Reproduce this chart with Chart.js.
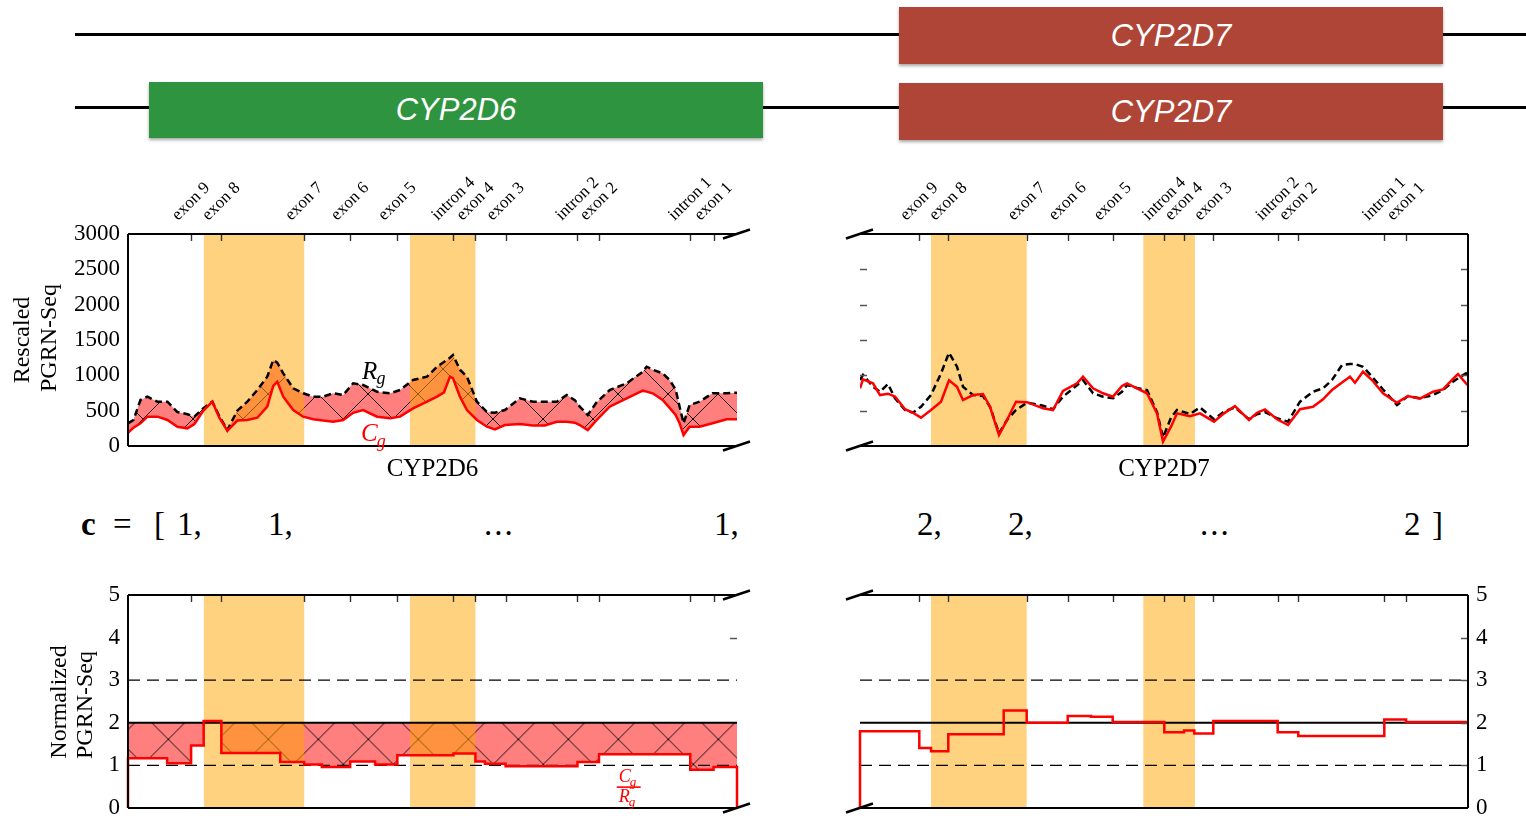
<!DOCTYPE html>
<html>
<head>
<meta charset="utf-8">
<title>CYP2D6 / CYP2D7 PGRN-Seq coverage</title>
<script src="https://cdn.jsdelivr.net/npm/chart.js@4/dist/chart.umd.min.js"></script>
<style>
  html, body { margin: 0; padding: 0; background: #fff; }
  body { width: 1526px; height: 819px; position: relative; overflow: hidden; }
  canvas { position: absolute; }
  .track { position: absolute; left: 75px; width: 1451px; height: 3px; background: #000; }
  .gene { position: absolute; display: flex; align-items: center; justify-content: center;
          color: #fff; font: italic 31px "Liberation Sans", Arial, sans-serif;
          box-shadow: 0 2px 3px rgba(0,0,0,0.35); }
  .vec { position: absolute; top: 508px; font: 33px "Liberation Serif", serif; line-height: 33px;
         white-space: pre; color: #000; }
</style>
</head>
<body>
<div class="track" style="top:33px"></div>
<div class="track" style="top:106px"></div>
<div class="gene" style="left:149px;top:82px;width:614px;height:56px;background:#2f9440">CYP2D6</div>
<div class="gene" style="left:899px;top:7px;width:544px;height:57px;background:#af4536">CYP2D7</div>
<div class="gene" style="left:899px;top:83px;width:544px;height:57px;background:#af4536">CYP2D7</div>

<canvas id="tl" width="770" height="325" style="left:0;top:160px"></canvas>
<canvas id="tr" width="696" height="325" style="left:830px;top:160px"></canvas>
<canvas id="bl" width="770" height="270" style="left:0;top:570px"></canvas>
<canvas id="br" width="696" height="270" style="left:830px;top:570px"></canvas>

<div class="vec" style="left:81px;font-weight:bold">c</div>
<div class="vec" style="left:113px">=</div>
<div class="vec" style="left:154px">[</div>
<div class="vec" style="left:177px">1,</div>
<div class="vec" style="left:268px">1,</div>
<div class="vec" style="left:484px;letter-spacing:2px">...</div>
<div class="vec" style="left:714px">1,</div>
<div class="vec" style="left:917px">2,</div>
<div class="vec" style="left:1008px">2,</div>
<div class="vec" style="left:1200px;letter-spacing:2px">...</div>
<div class="vec" style="left:1404px">2</div>
<div class="vec" style="left:1432px">]</div>

<script>
// ---- exon / intron landmarks (bp from the start of each gene window) ----
const EXON_LABELS = ['exon 9', 'exon 8', 'exon 7', 'exon 6', 'exon 5', 'intron 4',
                     'exon 4', 'exon 3', 'intron 2', 'exon 2', 'intron 1', 'exon 1'];
const EXON_POS_2D6 = [632, 935, 1765, 2225, 2698, 3260, 3480, 3782, 4502, 4718, 5632, 5865];
const EXON_POS_2D7 = [593, 883, 1667, 2077, 2527, 3043, 3240, 3533, 4177, 4383, 5243, 5460];

// highlighted regions
const BANDS_2D6 = [[760, 1765], [2825, 3480]];
const BANDS_2D7 = [[710, 1667], [2833, 3350]];

// ---- rescaled coverage, CYP2D6 window ----
const POS_2D6 = [0, 55, 125, 195, 295, 395, 495, 595, 665, 755,
                 845, 915, 995, 1095, 1195, 1295, 1395, 1455, 1495, 1555,
                 1655, 1755, 1855, 1955, 2055, 2155, 2255, 2355, 2495, 2625,
                 2725, 2855, 2995, 3095, 3165, 3225, 3255, 3325, 3395, 3495,
                 3595, 3675, 3775, 3925, 4055, 4175, 4295, 4395, 4475, 4525,
                 4605, 4695, 4825, 4995, 5155, 5195, 5255, 5355, 5425, 5485,
                 5525, 5565, 5625, 5725, 5855, 5995, 6100];
const RG_2D6 = [321, 368, 651, 698, 627, 627, 480, 450, 415, 533,
                627, 420, 226, 500, 627, 792, 981, 1217, 1180, 1028,
                816, 746, 698, 698, 746, 721, 887, 863, 768, 746,
                792, 934, 981, 1122, 1190, 1250, 1288, 1080, 981, 627,
                480, 470, 509, 675, 627, 627, 627, 721, 650, 556,
                439, 620, 792, 887, 1050, 1122, 1080, 1028, 934, 800,
                556, 321, 580, 627, 746, 746, 754];
const CG_2D6 = [188, 260, 321, 415, 415, 368, 273, 250, 311, 500,
                627, 400, 217, 360, 368, 400, 556, 850, 910, 698,
                509, 415, 380, 360, 344, 368, 470, 509, 415, 392,
                415, 533, 627, 698, 760, 981, 960, 698, 509, 368,
                273, 236, 297, 311, 290, 290, 344, 344, 330, 297,
                226, 368, 556, 675, 783, 770, 746, 651, 540, 440,
                321, 156, 273, 273, 321, 378, 378];

// ---- rescaled coverage, CYP2D7 window ----
const POS_2D7 = [0, 30, 130, 200, 280, 350, 450, 530, 610, 710,
                 810, 890, 970, 1030, 1130, 1230, 1300, 1390, 1470, 1560,
                 1670, 1830, 1930, 2030, 2170, 2230, 2330, 2430, 2530, 2620,
                 2670, 2770, 2870, 2970, 3030, 3110, 3170, 3300, 3400, 3540,
                 3640, 3750, 3890, 3970, 4050, 4170, 4280, 4400, 4530, 4630,
                 4720, 4820, 4900, 4950, 5030, 5120, 5230, 5370, 5480, 5600,
                 5730, 5830, 5930, 5980, 6060, 6080];
const RG_2D7 = [934, 1005, 839, 768, 877, 675, 509, 471, 556, 721,
                1028, 1320, 1122, 839, 721, 707, 556, 180, 368, 509,
                613, 570, 520, 698, 860, 934, 746, 698, 675, 768,
                863, 820, 792, 480, 120, 400, 509, 453, 547, 378,
                485, 547, 378, 450, 480, 392, 344, 627, 768, 816,
                934, 1146, 1160, 1160, 1122, 981, 800, 580, 707, 675,
                721, 792, 910, 960, 1028, 1000];
const CG_2D7 = [816, 943, 887, 721, 740, 700, 520, 470, 401, 509,
                627, 930, 839, 651, 721, 736, 556, 156, 368, 627,
                620, 533, 509, 780, 887, 981, 816, 746, 698, 850,
                887, 816, 746, 462, 61, 273, 462, 420, 462, 344,
                462, 566, 368, 471, 519, 378, 297, 520, 556, 660,
                792, 900, 981, 896, 1051, 934, 746, 613, 707, 670,
                768, 800, 950, 1019, 887, 860];

// ---- normalized coverage Cg/Rg per region (step starts) ----
const STEP_POS_2D6 = [0, 0, 392, 632, 758, 935, 1525, 1765, 1942, 2225, 2475,
                      2698, 3260, 3480, 3575, 3782, 4502, 4718, 5632, 5865, 6100, 6100];
const STEP_VAL_2D6 = [0, 1.17, 1.05, 1.47, 2.04, 1.29, 1.08, 1.02, 0.96, 1.09, 1.02,
                      1.24, 1.28, 1.09, 1.04, 0.98, 1.08, 1.26, 0.90, 0.96, 0.96, 0];
const STEP_POS_2D7 = [0, 0, 593, 710, 883, 1437, 1667, 2077, 2310, 2527, 3043,
                      3240, 3343, 3533, 4177, 4383, 5243, 5460, 6080];
const STEP_VAL_2D7 = [0, 1.80, 1.41, 1.33, 1.73, 2.29, 2.00, 2.16, 2.14, 2.02, 1.78,
                      1.82, 1.75, 2.04, 1.78, 1.69, 2.08, 2.02, 2.02];

const COPY_REFS = [1, 3];   // dashed guide levels
const COPY_MAIN = 2;        // solid guide level

const SERIF = '"Liberation Serif", "DejaVu Serif", serif';
const BAND_COLOR = 'rgba(255,165,0,0.5)';
const FILL_COLOR = 'rgba(255,0,0,0.5)';

function pts(xs, ys) { return ys.map((v, i) => ({ x: xs[i], y: v })); }

// cross-hatched translucent red fill
function hatch(canvas, tx, ty) {
  const P = 50;
  const tile = document.createElement('canvas');
  tile.width = P; tile.height = P;
  const g = tile.getContext('2d');
  g.fillStyle = FILL_COLOR;
  g.fillRect(0, 0, P, P);
  g.strokeStyle = 'rgba(0,0,0,0.9)';
  g.lineWidth = 1;
  g.beginPath();
  for (const k of [-P, 0, P]) { g.moveTo(k - 10, -10); g.lineTo(k + P + 10, P + 10); }
  for (const m of [0, P, 2 * P]) { g.moveTo(m + 10, -10); g.lineTo(m - P - 10, P + 10); }
  g.stroke();
  const pat = canvas.getContext('2d').createPattern(tile, 'repeat');
  pat.setTransform(new DOMMatrix([1, 0, 0, 1, tx, ty]));
  return pat;
}

function subLabel(ctx, main, sub, px, py, size, color) {
  ctx.fillStyle = color;
  ctx.textAlign = 'left';
  ctx.textBaseline = 'alphabetic';
  ctx.font = `italic ${size}px ${SERIF}`;
  ctx.fillText(main, px, py);
  const w = ctx.measureText(main).width;
  ctx.font = `italic ${Math.round(size * 0.7)}px ${SERIF}`;
  ctx.fillText(sub, px + w - 1, py + size * 0.22);
}

// per-panel decorations: bands, guide lines, spines, ticks, axis breaks, labels
function decor(cfg) {
  return {
    id: 'decor',
    beforeDatasetsDraw(chart) {
      const { ctx, chartArea: a } = chart;
      const x = chart.scales.x, y = chart.scales.y;
      ctx.save();
      ctx.fillStyle = BAND_COLOR;
      cfg.bands.forEach(([s, e]) => {
        const x0 = x.getPixelForValue(s), x1 = x.getPixelForValue(e);
        ctx.fillRect(x0, a.top, x1 - x0, a.bottom - a.top);
      });
      if (cfg.guides) {
        ctx.strokeStyle = '#000';
        COPY_REFS.forEach(v => {
          const py = y.getPixelForValue(v);
          ctx.beginPath(); ctx.setLineDash([12, 7]); ctx.lineWidth = 1.2;
          ctx.moveTo(a.left, py); ctx.lineTo(a.right, py); ctx.stroke();
        });
        const py = y.getPixelForValue(COPY_MAIN);
        ctx.beginPath(); ctx.setLineDash([]); ctx.lineWidth = 2;
        ctx.moveTo(a.left, py); ctx.lineTo(a.right, py); ctx.stroke();
      }
      ctx.restore();
    },
    afterDatasetsDraw(chart) {
      const { ctx, chartArea: a } = chart;
      const x = chart.scales.x, y = chart.scales.y;
      ctx.save();
      // top ticks at exon landmarks
      ctx.strokeStyle = '#333'; ctx.lineWidth = 1.4;
      cfg.exons.forEach(p => {
        const px = Math.round(x.getPixelForValue(p)) + 0.5;
        ctx.beginPath(); ctx.moveTo(px, a.top); ctx.lineTo(px, a.top + 7); ctx.stroke();
      });
      // inward y ticks
      ctx.strokeStyle = '#555'; ctx.lineWidth = 1.5;
      (cfg.yTicks || []).forEach(v => {
        const py = Math.round(y.getPixelForValue(v)) + 0.5;
        cfg.yTickSides.forEach(side => {
          ctx.beginPath();
          if (side === 'left') { ctx.moveTo(a.left, py); ctx.lineTo(a.left + 7, py); }
          else { ctx.moveTo(a.right - 7, py); ctx.lineTo(a.right, py); }
          ctx.stroke();
        });
      });
      // spines
      ctx.strokeStyle = '#000'; ctx.lineWidth = 2;
      ctx.beginPath();
      ctx.moveTo(a.left, a.top); ctx.lineTo(a.right, a.top);
      ctx.moveTo(a.left, a.bottom); ctx.lineTo(a.right, a.bottom);
      if (cfg.side === 'left') { ctx.moveTo(a.left, a.top); ctx.lineTo(a.left, a.bottom); }
      else { ctx.moveTo(a.right, a.top); ctx.lineTo(a.right, a.bottom); }
      ctx.stroke();
      // axis-break slashes on the open side
      ctx.lineWidth = 2.5;
      const bx = cfg.side === 'left' ? a.right : a.left;
      [a.top, a.bottom].forEach(yy => {
        ctx.beginPath();
        ctx.moveTo(bx - 14, yy + 4.5); ctx.lineTo(bx + 13, yy - 4.5);
        ctx.stroke();
      });
      ctx.restore();
    },
    afterDraw(chart) {
      const { ctx, chartArea: a } = chart;
      const x = chart.scales.x, y = chart.scales.y;
      ctx.save();
      ctx.fillStyle = '#000';
      if (cfg.exonLabels) {
        ctx.font = `17px ${SERIF}`;
        cfg.exons.forEach((p, i) => {
          const lbl = EXON_LABELS[i];
          const px = x.getPixelForValue(p);
          const w = ctx.measureText(lbl).width;
          const ext = (w + 12) / Math.SQRT2;
          const cy = a.top - 12 - ext / 2;
          ctx.save();
          ctx.translate(px, cy); ctx.rotate(-Math.PI / 4);
          ctx.textAlign = 'center'; ctx.textBaseline = 'middle';
          ctx.fillText(lbl, 0, 0);
          ctx.restore();
        });
      }
      if (cfg.xTitle) {
        ctx.font = `25px ${SERIF}`;
        ctx.textAlign = 'center'; ctx.textBaseline = 'alphabetic';
        ctx.fillText(cfg.xTitle, (a.left + a.right) / 2, a.bottom + 30);
      }
      if (cfg.yTitle) {
        ctx.font = `24px ${SERIF}`;
        ctx.textAlign = 'center'; ctx.textBaseline = 'middle';
        cfg.yTitle.forEach(t => {
          ctx.save(); ctx.translate(t.x, t.y); ctx.rotate(-Math.PI / 2);
          ctx.fillText(t.text, 0, 0); ctx.restore();
        });
      }
      if (cfg.curveLabels) {
        subLabel(ctx, 'R', 'g', x.getPixelForValue(2345), y.getPixelForValue(950), 25, '#000');
        subLabel(ctx, 'C', 'g', x.getPixelForValue(2335), y.getPixelForValue(70), 25, '#ff0000');
      }
      if (cfg.ratioLabel) {
        const cx = x.getPixelForValue(5015), by = y.getPixelForValue(0.49);
        ctx.strokeStyle = '#ff0000'; ctx.lineWidth = 1.6;
        ctx.beginPath(); ctx.moveTo(cx - 12, by); ctx.lineTo(cx + 12, by); ctx.stroke();
        subLabel(ctx, 'C', 'g', cx - 10, by - 5, 18, '#ff0000');
        subLabel(ctx, 'R', 'g', cx - 10, by + 15, 18, '#ff0000');
      }
      ctx.restore();
    }
  };
}

function yAxis(cfg) {
  return {
    type: 'linear', min: cfg.min, max: cfg.max, position: cfg.position || 'left',
    display: cfg.display !== false,
    afterFit(s) { s.width = cfg.width; },
    border: { display: false },
    grid: { display: false, drawTicks: false },
    ticks: { stepSize: cfg.step, padding: 8, color: '#000', font: { family: SERIF, size: 23 },
             callback: v => String(v) }
  };
}

function baseOptions(xmax, padding, y) {
  return {
    responsive: false, animation: false, events: [], devicePixelRatio: 1,
    layout: { padding },
    plugins: { legend: { display: false }, tooltip: { enabled: false },
               filler: { drawTime: 'beforeDatasetsDraw' } },
    elements: { point: { radius: 0 }, line: { tension: 0 } },
    scales: { x: { type: 'linear', min: 0, max: xmax, display: false }, y }
  };
}

// ---------- top left: CYP2D6 rescaled ----------
const tl = document.getElementById('tl');
new Chart(tl, {
  type: 'line',
  data: { datasets: [
    { label: 'Rg', data: pts(POS_2D6, RG_2D6), borderColor: '#000', borderWidth: 2.5,
      borderDash: [7, 4], fill: false, order: 1 },
    { label: 'Cg', data: pts(POS_2D6, CG_2D6), borderColor: '#ff0000', borderWidth: 2.5,
      fill: '-1', backgroundColor: hatch(tl, 43, 9), order: 0 }
  ] },
  options: baseOptions(6100, { top: 74, right: 33, bottom: 39, left: 0 },
    yAxis({ min: 0, max: 3000, step: 500, width: 128 })),
  plugins: [decor({ bands: BANDS_2D6, exons: EXON_POS_2D6, exonLabels: true, side: 'left',
    xTitle: 'CYP2D6', curveLabels: true,
    yTitle: [{ text: 'Rescaled', x: 23, y: 180 }, { text: 'PGRN-Seq', x: 50, y: 178 }] })]
});

// ---------- top right: CYP2D7 rescaled ----------
const tr = document.getElementById('tr');
new Chart(tr, {
  type: 'line',
  data: { datasets: [
    { label: 'Rg', data: pts(POS_2D7, RG_2D7), borderColor: '#000', borderWidth: 2.5,
      borderDash: [7, 4], fill: false, order: 1 },
    { label: 'Cg', data: pts(POS_2D7, CG_2D7), borderColor: '#ff0000', borderWidth: 2.5,
      fill: false, order: 0 }
  ] },
  options: baseOptions(6080, { top: 74, right: 58, bottom: 39, left: 30 },
    yAxis({ min: 0, max: 3000, step: 500, width: 0, display: false })),
  plugins: [decor({ bands: BANDS_2D7, exons: EXON_POS_2D7, exonLabels: true, side: 'right',
    xTitle: 'CYP2D7', yTicks: [500, 1000, 1500, 2000, 2500], yTickSides: ['left', 'right'] })]
});

// ---------- bottom left: CYP2D6 normalized ----------
const bl = document.getElementById('bl');
new Chart(bl, {
  type: 'line',
  data: { datasets: [
    { label: 'Cg/Rg', data: pts(STEP_POS_2D6, STEP_VAL_2D6), stepped: true, clip: 4,
      borderColor: '#ff0000', borderWidth: 2.5, fill: { value: COPY_MAIN },
      backgroundColor: hatch(bl, 18.3, 19.3) }
  ] },
  options: baseOptions(6100, { top: 25, right: 33, bottom: 32, left: 0 },
    yAxis({ min: 0, max: 5, step: 1, width: 128 })),
  plugins: [decor({ bands: BANDS_2D6, exons: EXON_POS_2D6, side: 'left', guides: true,
    yTicks: [4], yTickSides: ['right'], ratioLabel: true,
    yTitle: [{ text: 'Normalized', x: 60, y: 132 }, { text: 'PGRN-Seq', x: 86, y: 135 }] })]
});

// ---------- bottom right: CYP2D7 normalized ----------
const br = document.getElementById('br');
new Chart(br, {
  type: 'line',
  data: { datasets: [
    { label: 'Cg/Rg', data: pts(STEP_POS_2D7, STEP_VAL_2D7), stepped: true, clip: 4,
      borderColor: '#ff0000', borderWidth: 2.5, fill: false }
  ] },
  options: baseOptions(6080, { top: 25, right: 0, bottom: 32, left: 30 },
    yAxis({ min: 0, max: 5, step: 1, width: 58, position: 'right' })),
  plugins: [decor({ bands: BANDS_2D7, exons: EXON_POS_2D7, side: 'right', guides: true,
    yTicks: [1, 2, 3, 4], yTickSides: ['right'] })]
});
</script>
</body>
</html>
